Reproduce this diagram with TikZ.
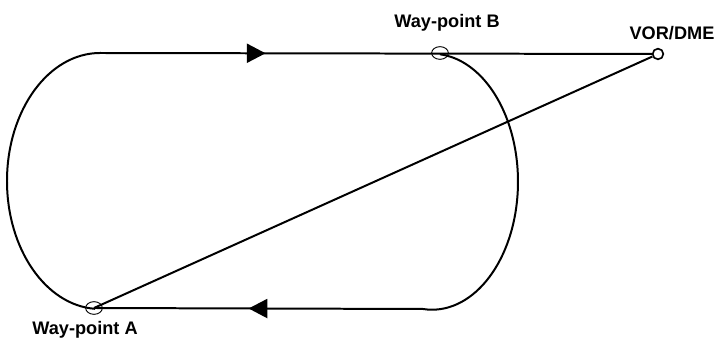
\documentclass[tikz,border=0pt]{standalone}
\usepackage{fontspec}
\setmainfont{Liberation Sans}
\usetikzlibrary{arrows.meta, shapes.geometric, decorations.markings}

\begin{document}
\begin{tikzpicture}[x=0.03cm, y=0.03cm,
  track/.style={line width=1.7pt},
  wpt/.style={ellipse, draw, line width=0.8pt, minimum width=0.5cm, minimum height=0.38cm, inner sep=0pt},
  beacon/.style={circle, draw, line width=1.4pt, fill=white, minimum size=0.32cm, inner sep=0pt},
  lbl/.style={font=\bfseries\fontsize{15.5}{18}\selectfont, anchor=base, inner sep=0pt},
  midarrow/.style={postaction={decorate}, decoration={markings,
    mark=at position #1 with {\arrow{Triangle[length=0.56cm, width=0.57cm]}}}}]
  \useasboundingbox (0,0) rectangle (717,340);

  \coordinate (topL) at (100,287);
  \coordinate (botR) at (423,31);

  \node[wpt] (wpA) at (94,32) {};
  \node[wpt] (wpB) at (440,287) {};
  \node[beacon] (vor) at (658,286) {};

  \node[lbl] (lblA) at (85,5) {Way-point A};
  \node[lbl] (lblB) at (447,312) {Way-point B};
  \node[lbl] (lblV) at (672,300) {VOR/DME};

  % inbound and outbound legs
  \draw[track, midarrow=0.3] (topL) -- (vor);
  \draw[track, midarrow=0.53] (botR) -- (wpA.center);

  % turns
  \draw[track] (topL) arc[start angle=90, end angle=267, x radius=93, y radius=128];
  \draw[track] (botR) arc[start angle=-96, end angle=84.7, x radius=86, y radius=128];

  % radial to the beacon
  \draw[track] (wpA.center) -- (vor);
\end{tikzpicture}
\end{document}
